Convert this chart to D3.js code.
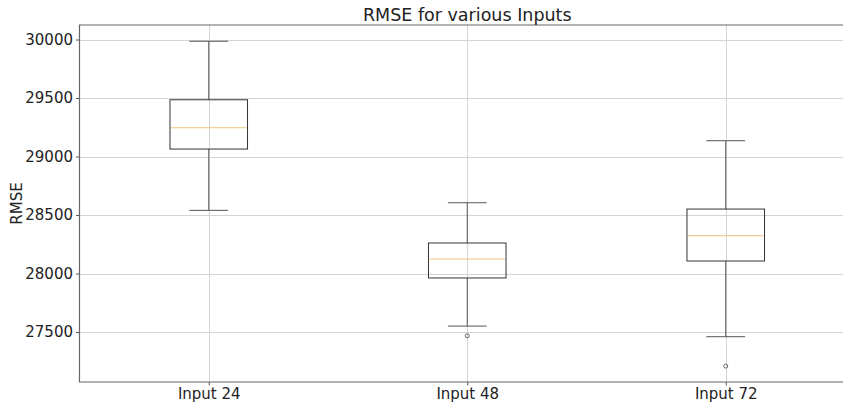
<!DOCTYPE html>
<html>
<head>
<meta charset="utf-8">
<script src="https://cdn.jsdelivr.net/npm/d3@7"></script>
<style>
  body { margin: 0; background: #fff; }
  text { font-family: "DejaVu Sans", sans-serif; fill: #222; }
</style>
</head>
<body>
<div id="chart"></div>
<script>
// values
const categories = ["Input 24", "Input 48", "Input 72"];
const whiskerLow = [28540, 27551, 27460];
const q1 = [29064, 27962, 28107];
const median = [29246, 28124, 28323];
const q3 = [29485, 28261, 28551];
const whiskerHigh = [29985, 28605, 29135];
const outliers = [[], [27468], [27209]];
const yTicks = [27500, 28000, 28500, 29000, 29500, 30000];

const width = 843, height = 405;
const margin = { top: 25, left: 79.5, bottom: 23 };
const plotRight = 855; // plot runs past the picture's right edge

const svg = d3
  .select("#chart")
  .append("svg")
  .attr("width", width)
  .attr("height", height);

const x = d3.scaleLinear().domain([0.5, 3.5]).range([margin.left, plotRight]);
const y = d3
  .scaleLinear()
  .domain([27073, 30124])
  .range([height - margin.bottom, margin.top]);

const boxW = x(1.3) - x(1);
const capW = boxW / 2;

// grid
const grid = svg.append("g").attr("stroke", "#d4d4d4").attr("stroke-width", 1);
grid
  .selectAll(".gy")
  .data(yTicks)
  .enter()
  .append("line")
  .attr("x1", margin.left)
  .attr("x2", plotRight)
  .attr("y1", (d) => Math.round(y(d)) + 0.5)
  .attr("y2", (d) => Math.round(y(d)) + 0.5);
grid
  .selectAll(".gx")
  .data(categories)
  .enter()
  .append("line")
  .attr("x1", (d, i) => Math.round(x(i + 1)) + 0.5)
  .attr("x2", (d, i) => Math.round(x(i + 1)) + 0.5)
  .attr("y1", y.range()[1])
  .attr("y2", y.range()[0]);

// axes
const yAxis = d3.axisLeft(y).tickValues(yTicks).tickSize(3.5).tickPadding(3).tickFormat(d3.format("d"));
const gy = svg.append("g").attr("transform", `translate(${margin.left},0)`).call(yAxis);
gy.select(".domain").remove();
gy.selectAll("line").attr("stroke", "#555");
gy.selectAll("text").style("font-size", "15px").attr("fill", "#222");

const xAxis = d3
  .axisBottom(x)
  .tickValues([1, 2, 3])
  .tickSize(3.5)
  .tickPadding(3)
  .tickFormat((d) => categories[d - 1]);
const gx = svg.append("g").attr("transform", `translate(0,${y.range()[0]})`).call(xAxis);
gx.select(".domain").remove();
gx.selectAll("line").attr("stroke", "#555");
gx.selectAll("text").style("font-size", "15px").attr("fill", "#222");

// spines
svg
  .append("path")
  .attr("fill", "none")
  .attr("stroke", "#666")
  .attr("stroke-width", 1.2)
  .attr("d", `M${plotRight},${margin.top}H${margin.left}V${y.range()[0]}H${plotRight}`);

// boxes
const boxes = svg
  .selectAll(".box")
  .data(categories)
  .enter()
  .append("g")
  .attr("class", "box");

boxes
  .append("line")
  .attr("stroke", "#555")
  .attr("x1", (d, i) => x(i + 1))
  .attr("x2", (d, i) => x(i + 1))
  .attr("y1", (d, i) => y(whiskerHigh[i]))
  .attr("y2", (d, i) => y(q3[i]));
boxes
  .append("line")
  .attr("stroke", "#555")
  .attr("x1", (d, i) => x(i + 1))
  .attr("x2", (d, i) => x(i + 1))
  .attr("y1", (d, i) => y(q1[i]))
  .attr("y2", (d, i) => y(whiskerLow[i]));
[whiskerHigh, whiskerLow].forEach((arr) => {
  boxes
    .append("line")
    .attr("stroke", "#555")
    .attr("x1", (d, i) => x(i + 1) - capW / 2)
    .attr("x2", (d, i) => x(i + 1) + capW / 2)
    .attr("y1", (d, i) => y(arr[i]))
    .attr("y2", (d, i) => y(arr[i]));
});
boxes
  .append("rect")
  .attr("fill", "none")
  .attr("stroke", "#333")
  .attr("x", (d, i) => x(i + 1) - boxW / 2)
  .attr("width", boxW)
  .attr("y", (d, i) => y(q3[i]))
  .attr("height", (d, i) => y(q1[i]) - y(q3[i]));
boxes
  .append("line")
  .attr("stroke", "#eec27a")
  .attr("x1", (d, i) => x(i + 1) - boxW / 2 + 1)
  .attr("x2", (d, i) => x(i + 1) + boxW / 2 - 1)
  .attr("y1", (d, i) => y(median[i]))
  .attr("y2", (d, i) => y(median[i]));
boxes
  .selectAll("circle")
  .data((d, i) => outliers[i].map((v) => ({ v, i })))
  .enter()
  .append("circle")
  .attr("fill", "none")
  .attr("stroke", "#666")
  .attr("cx", (d) => x(d.i + 1))
  .attr("cy", (d) => y(d.v))
  .attr("r", 2);

// title and label
svg
  .append("text")
  .attr("x", (margin.left + plotRight) / 2)
  .attr("y", 21)
  .attr("text-anchor", "middle")
  .style("font-size", "17.5px")
  .text("RMSE for various Inputs");

svg
  .append("text")
  .attr("transform", `translate(22,${(y.range()[0] + y.range()[1]) / 2}) rotate(-90)`)
  .attr("text-anchor", "middle")
  .style("font-size", "15px")
  .text("RMSE");
</script>
</body>
</html>
